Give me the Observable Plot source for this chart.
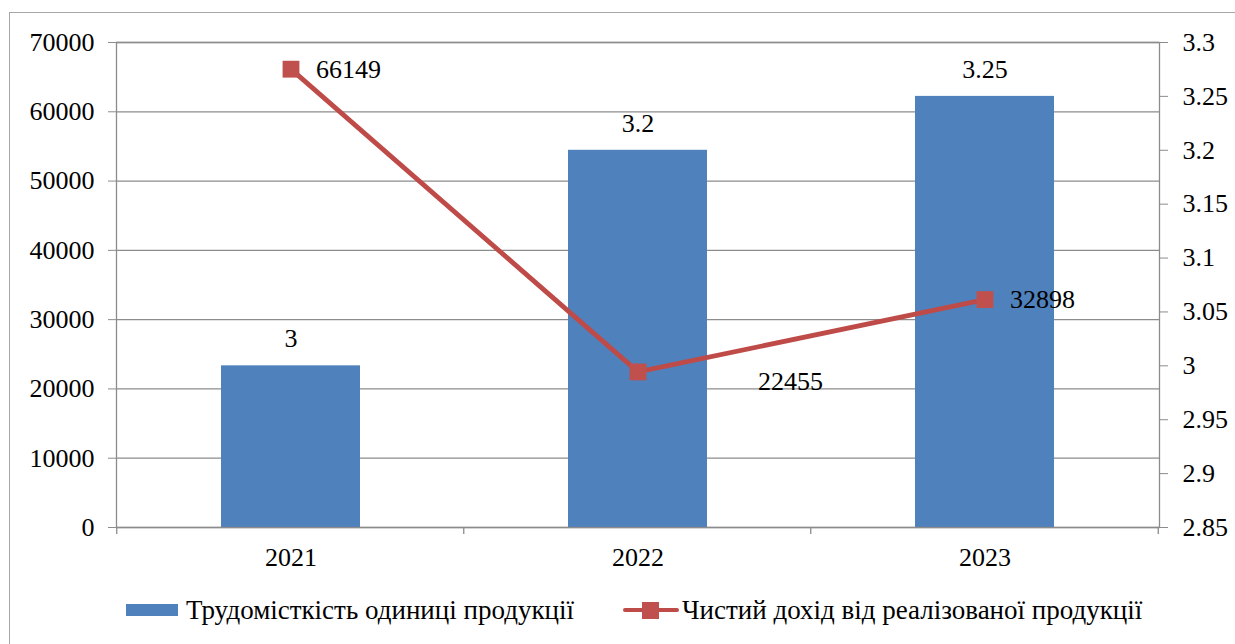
<!DOCTYPE html>
<html><head><meta charset="utf-8">
<script src="https://cdn.jsdelivr.net/npm/d3@7"></script>
<script src="https://cdn.jsdelivr.net/npm/@observablehq/plot@0.6"></script>
<style>
body{margin:0;background:#fff;font-family:'Liberation Serif',serif;overflow:hidden;}
#frame{position:absolute;left:9px;top:12px;width:1400px;height:800px;border-left:1.5px solid #a6a6a6;border-top:1.5px solid #a6a6a6;}
#chart{position:absolute;left:0;top:0;}
.leg{position:absolute;top:596px;height:28px;display:flex;align-items:center;font-size:27px;color:#000;white-space:nowrap;font-family:'Liberation Serif',serif !important;}
.sw{display:inline-block;width:52px;height:12px;background:#4F81BD;margin-right:8px;}
.ln{position:relative;display:inline-block;width:56px;height:17px;margin-right:3px;}
.ln1{position:absolute;left:0;right:0;top:6px;height:4.5px;border-radius:2px;background:#BE4B48;}
.ln2{position:absolute;left:19px;top:0;width:17px;height:17px;background:#C0504D;}
#chart text{font-family:'Liberation Serif',serif !important;}
</style></head><body>
<div id="frame"></div>
<div id="chart"></div>
<div class="leg" id="leg1" style="left:126px"></div>
<div class="leg" id="leg2" style="left:623px"></div>
<script>
const years = ["2021", "2022", "2023"];
const laborIntensity = [3, 3.2, 3.25];          // right axis (bars)
const netIncome = [66149, 22455, 32898];         // left axis (line)
const leftTicks = [0, 10000, 20000, 30000, 40000, 50000, 60000, 70000];
const rightTicks = [2.85, 2.9, 2.95, 3, 3.05, 3.1, 3.15, 3.2, 3.25, 3.3];
const seriesNames = ["Трудомісткість одиниці продукції", "Чистий дохід від реалізованої продукції"];

const data = years.map((year, i) => ({year, labor: laborIntensity[i], income: netIncome[i]}));
const toLeft = d3.scaleLinear([rightTicks[0], rightTicks[rightTicks.length - 1]], [leftTicks[0], leftTicks[leftTicks.length - 1]]);

const blue = "#4F81BD", red = "#BE4B48", grid = "#8c8c8c";
const font = 26;
const fam = "Liberation Serif";

function categoryTicks(index, scales, values, dims) {
  const x = scales.x, bw = typeof x.bandwidth === "function" ? x.bandwidth() : (x.bandwidth || 0);
  const step = bw / (1 - 0.6);
  const centers = years.map(y => x(y) + bw / 2);
  const edges = centers.map(c => c - step / 2).concat([centers[centers.length - 1] + step / 2]);
  const y0 = dims.height - dims.marginBottom;
  const g = d3.create("svg:g").attr("stroke", grid).attr("stroke-width", 1.3);
  for (const e of edges) g.append("line").attr("x1", e).attr("x2", e).attr("y1", y0).attr("y2", y0 + 7);
  return g.node();
}

const chart = Plot.plot({
  width: 1235,
  height: 585,
  marginLeft: 116,
  marginRight: 76,
  marginTop: 42,
  marginBottom: 58,
  style: {fontFamily: fam, background: "transparent", color: "#000"},
  x: {type: "band", domain: years, paddingInner: 0.6, paddingOuter: 0.3, axis: null},
  y: {domain: [leftTicks[0], leftTicks[leftTicks.length - 1]], axis: null},
  marks: [
    Plot.gridY(leftTicks, {stroke: grid, strokeOpacity: 1, strokeWidth: 1.3}),
    Plot.barY(data, {x: "year", y: d => toLeft(d.labor), fill: blue}),
    Plot.frame({stroke: grid, strokeWidth: 1.3}),
    Plot.axisY({ticks: leftTicks, anchor: "left", tickSize: 8, tickPadding: 14, fontSize: font, fontFamily: fam, stroke: grid, fill: "#000", label: null, tickFormat: d => String(d)}),
    Plot.axisY({ticks: rightTicks.map(toLeft), anchor: "right", tickSize: 8, tickPadding: 15, fontSize: font, fontFamily: fam, stroke: grid, fill: "#000", label: null, tickFormat: d => String(+toLeft.invert(d).toFixed(2))}),
    Plot.axisX({anchor: "bottom", tickSize: 0, tickPadding: 20, fontSize: font, fontFamily: fam, fill: "#000", label: null}),
    categoryTicks,
    Plot.line(data, {x: "year", y: "income", stroke: red, strokeWidth: 4.8}),
    Plot.dot(data, {x: "year", y: "income", symbol: "square", r: 9.5, fill: "#C0504D"}),
    Plot.text(data, {x: "year", y: d => toLeft(d.labor), text: d => String(d.labor), dy: -27, fontSize: font, fontFamily: fam, fill: "#000"}),
    Plot.text(data.filter(d => d.year !== "2022"), {x: "year", y: "income", text: d => String(d.income), dx: 25, textAnchor: "start", fontSize: font, fontFamily: fam, fill: "#000"}),
    Plot.text(data.filter(d => d.year === "2022"), {x: "year", y: "income", text: d => String(d.income), dx: 120, dy: 10, textAnchor: "start", fontSize: font, fontFamily: fam, fill: "#000"})
  ]
});
document.getElementById("chart").appendChild(chart);

document.getElementById("leg1").innerHTML = '<span class="sw"></span>' + seriesNames[0];
document.getElementById("leg2").innerHTML = '<span class="ln"><span class="ln1"></span><span class="ln2"></span></span>' + seriesNames[1];
</script>
</body></html>
